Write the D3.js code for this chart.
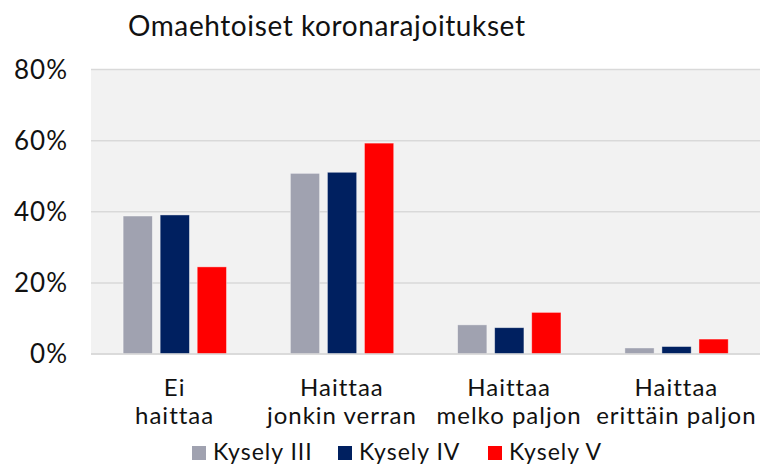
<!DOCTYPE html>
<html>
<head>
<meta charset="utf-8">
<script src="https://cdn.jsdelivr.net/npm/d3@7"></script>
<style>
  body { margin: 0; background: #fff; }
  text { font-family: "Lato", "Open Sans", sans-serif; fill: #111; }
</style>
</head>
<body>
<svg width="760" height="465"></svg>
<script>
// data
var categories = [["Ei", "haittaa"], ["Haittaa", "jonkin verran"], ["Haittaa", "melko paljon"], ["Haittaa", "erittäin paljon"]];
var seriesNames = ["Kysely III", "Kysely IV", "Kysely V"];
var kyselyIII = [38.8, 50.8, 8.2, 1.7];
var kyselyIV = [39.1, 51.1, 7.4, 2.1];
var kyselyV = [24.5, 59.3, 11.7, 4.2];
var yTicks = [0, 20, 40, 60, 80];
var colors = ["#a0a2b0", "#002060", "#ff0000"];

var svg = d3.select("svg");
var margin = {top: 69.5, right: 0, bottom: 111, left: 91};
var width = +svg.attr("width") - margin.left - margin.right;
var height = +svg.attr("height") - margin.top - margin.bottom;

var g = svg.append("g")
    .attr("transform", "translate(" + margin.left + "," + margin.top + ")");

var x = d3.scaleBand()
    .domain(d3.range(categories.length))
    .range([0, width]);

var xs = d3.scaleBand()
    .domain(seriesNames)
    .range([x.bandwidth() * 0.192, x.bandwidth() * 0.81])
    .paddingInner(0.21);

var y = d3.scaleLinear()
    .domain([0, 80])
    .range([height, 0]);

// plot background
g.append("rect")
    .attr("width", width)
    .attr("height", height)
    .attr("fill", "#f2f2f2");

// gridlines
g.append("g")
  .selectAll("line")
  .data(yTicks)
  .enter().append("line")
    .attr("x1", 0)
    .attr("x2", width)
    .attr("y1", function(d) { return y(d); })
    .attr("y2", function(d) { return y(d); })
    .attr("stroke", "#d9d9d9")
    .attr("stroke-width", 1.5);

// y labels
g.append("g")
  .selectAll("text")
  .data(yTicks)
  .enter().append("text")
    .attr("x", -23)
    .attr("y", function(d) { return y(d); })
    .attr("dy", "0.36em")
    .attr("text-anchor", "end")
    .style("font-size", "26px")
    .style("letter-spacing", "1px")
    .text(function(d) { return d + "%"; });

var series = [kyselyIII, kyselyIV, kyselyV];

var groups = g.selectAll(".series")
  .data(series)
  .enter().append("g")
    .attr("class", "series")
    .attr("fill", function(d, i) { return colors[i]; });

groups.selectAll("rect")
  .data(function(d, i) { return d.map(function(v, j) { return {v: v, cat: j, s: seriesNames[i]}; }); })
  .enter().append("rect")
    .attr("x", function(d) { return x(d.cat) + xs(d.s); })
    .attr("width", xs.bandwidth())
    .attr("y", function(d) { return y(d.v); })
    .attr("height", function(d) { return y(0) - y(d.v); })
    .attr("stroke", "rgba(255,255,255,0.5)")
    .attr("stroke-width", 0.8);

// baseline
g.append("line")
    .attr("x1", 0)
    .attr("x2", width)
    .attr("y1", y(0))
    .attr("y2", y(0))
    .attr("stroke", "#d9d9d9")
    .attr("stroke-width", 1.5);

// category labels
var catLabels = g.append("g")
  .selectAll("text")
  .data(categories)
  .enter().append("text")
    .attr("text-anchor", "middle")
    .attr("transform", function(d, i) { return "translate(" + (x(i) + x.bandwidth() / 2) + "," + (y(0) + 41.5) + ")"; })
    .style("font-size", "24px")
    .style("letter-spacing", "1px");

catLabels.selectAll("tspan")
  .data(function(d) { return d; })
  .enter().append("tspan")
    .attr("x", 0)
    .attr("dy", function(d, i) { return i ? 28.3 : 0; })
    .text(function(d) { return d; });

// legend
var legendX = [192, 338, 488];
var legend = svg.append("g")
  .selectAll("g")
  .data(seriesNames)
  .enter().append("g")
    .attr("transform", function(d, i) { return "translate(" + legendX[i] + ",446)"; });

legend.append("rect")
    .attr("width", 14)
    .attr("height", 14)
    .attr("fill", function(d, i) { return colors[i]; });

legend.append("text")
    .attr("x", 21)
    .attr("y", 14)
    .style("font-size", "23px")
    .style("letter-spacing", "1px")
    .text(function(d) { return d; });

// title
svg.append("text")
    .attr("x", 128)
    .attr("y", 36)
    .style("font-size", "28px")
    .style("letter-spacing", "0.6px")
    .text("Omaehtoiset koronarajoitukset");
</script>
</body>
</html>
